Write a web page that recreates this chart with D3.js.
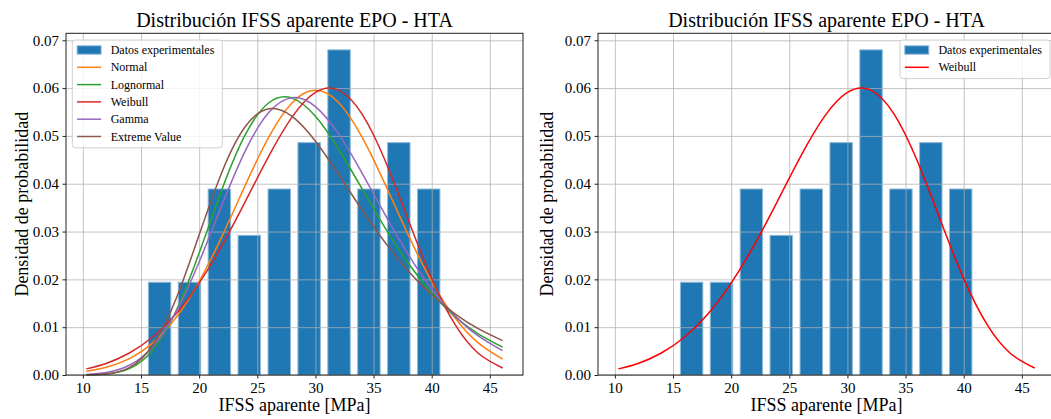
<!DOCTYPE html>
<html>
<head>
<meta charset="utf-8">
<script src="https://cdn.jsdelivr.net/npm/d3@7"></script>
<style>
  body { margin: 0; background: #fff; }
  svg text { font-family: "Liberation Serif", "DejaVu Serif", serif; fill: #000; }
  .grid line { stroke: #b0b0b0; stroke-opacity: 0.75; }
  .grid .domain { display: none; }
  .axis .domain { display: none; }
  .axis line { stroke: #222; }
</style>
</head>
<body>
<div id="chart"></div>
<script>
// histogram (bin centre in MPa, density)
const binCenters = [16.6, 19.17, 21.74, 24.31, 26.89, 29.46, 32.03, 34.6, 37.17, 39.74];
const binDensity = [0.0194, 0.0194, 0.0389, 0.0292, 0.0389, 0.0486, 0.068, 0.0389, 0.0486, 0.0389];
const barWidth = 1.93;

const xTicks = [10, 15, 20, 25, 30, 35, 40, 45];
const yTicks = [0, 0.01, 0.02, 0.03, 0.04, 0.05, 0.06, 0.07];

// fitted curves
const fitX = [10.3, 12, 14, 16, 18, 20, 22, 24, 26, 28, 30, 32, 34, 36, 38, 40, 42, 44, 46.1];
const normalPdf = [0.00079, 0.00161, 0.00344, 0.00671, 0.01198, 0.01955, 0.02919, 0.03987, 0.04982, 0.05695, 0.05954, 0.05695, 0.04982, 0.03987, 0.02919, 0.01955, 0.01198, 0.00671, 0.00332];
const lognormalPdf = [0.00002, 0.00019, 0.00133, 0.00517, 0.01333, 0.02551, 0.03906, 0.05041, 0.05694, 0.05790, 0.05410, 0.04721, 0.03897, 0.03073, 0.02333, 0.01716, 0.01222, 0.00862, 0.00582];
const weibullPdf = [0.00128, 0.00242, 0.00460, 0.00795, 0.01277, 0.01922, 0.02725, 0.03642, 0.04581, 0.05398, 0.05911, 0.05959, 0.05461, 0.04482, 0.03237, 0.02015, 0.01057, 0.00455, 0.00147];
const gammaPdf = [0.00010, 0.00050, 0.00204, 0.00593, 0.01316, 0.02363, 0.03579, 0.04704, 0.05493, 0.05799, 0.05613, 0.05037, 0.04228, 0.03347, 0.02514, 0.01801, 0.01236, 0.00817, 0.00509];
const extremePdf = [0.00002, 0.00021, 0.00155, 0.00617, 0.01583, 0.02931, 0.04268, 0.05206, 0.05568, 0.05407, 0.04887, 0.04191, 0.03456, 0.02769, 0.02172, 0.01677, 0.01280, 0.00969, 0.00718];

const title = "Distribución IFSS aparente EPO - HTA";
const xLabel = "IFSS aparente [MPa]";
const yLabel = "Densidad de probabilidad";
const barLabel = "Datos experimentales";

const allFits = [
    {name: "Normal", color: "#ff7f0e", values: normalPdf},
    {name: "Lognormal", color: "#2ca02c", values: lognormalPdf},
    {name: "Weibull", color: "#d62728", values: weibullPdf},
    {name: "Gamma", color: "#9467bd", values: gammaPdf},
    {name: "Extreme Value", color: "#8c564b", values: extremePdf}
];
const bestFit = [{name: "Weibull", color: "#ff0000", values: weibullPdf}];

const svg = d3.select("#chart").append("svg")
    .attr("width", 1051)
    .attr("height", 419);

function drawPanel(cfg) {
    const width = 457, height = 341.7;

    const g = svg.append("g")
        .attr("transform", `translate(${cfg.left}, 33.3)`);

    const x = d3.scaleLinear().domain([8.55, 47.85]).range([0, width]);
    const y = d3.scaleLinear().domain([0, 0.07146]).range([height, 0]);

    // bars
    g.selectAll(".bar")
        .data(binCenters)
        .enter()
        .append("rect")
        .attr("class", "bar")
        .attr("x", d => x(d - barWidth / 2))
        .attr("width", d => x(d + barWidth / 2) - x(d - barWidth / 2))
        .attr("y", (d, i) => y(binDensity[i]))
        .attr("height", (d, i) => height - y(binDensity[i]))
        .attr("fill", "#1f77b4")
        .attr("stroke", "#8fbbd9")
        .attr("stroke-width", 1);

    // grid (above bars, below lines like matplotlib)
    g.append("g")
        .attr("class", "grid")
        .attr("transform", `translate(0, ${height})`)
        .call(d3.axisBottom(x).tickValues(xTicks).tickSize(-height).tickFormat(""));
    g.append("g")
        .attr("class", "grid")
        .call(d3.axisLeft(y).tickValues(yTicks).tickSize(-width).tickFormat(""));

    // fitted pdfs
    const line = d3.line()
        .x((d, i) => x(fitX[i]))
        .y(d => y(d))
        .curve(d3.curveNatural);

    cfg.fits.forEach(f => {
        g.append("path")
            .datum(f.values)
            .attr("d", line)
            .attr("fill", "none")
            .attr("stroke", f.color)
            .attr("stroke-width", 1.5);
    });

    // axes
    g.append("g")
        .attr("class", "axis")
        .attr("transform", `translate(0, ${height})`)
        .call(d3.axisBottom(x).tickValues(xTicks).tickSize(3.5).tickPadding(3.5).tickFormat(d3.format("d")))
        .selectAll("text")
        .attr("font-size", 15)
        .attr("font-family", "Liberation Serif");

    g.append("g")
        .attr("class", "axis")
        .call(d3.axisLeft(y).tickValues(yTicks).tickSize(3.5).tickPadding(3.5).tickFormat(d3.format(".2f")))
        .selectAll("text")
        .attr("font-size", 15)
        .attr("font-family", "Liberation Serif");

    // frame
    g.append("rect")
        .attr("width", width)
        .attr("height", height)
        .attr("fill", "none")
        .attr("stroke", "#222")
        .attr("stroke-width", 1);

    // title and labels
    g.append("text")
        .text(title)
        .attr("x", width / 2)
        .attr("y", -6)
        .attr("text-anchor", "middle")
        .attr("font-size", 20);

    g.append("text")
        .text(xLabel)
        .attr("x", width / 2)
        .attr("y", height + 36)
        .attr("text-anchor", "middle")
        .attr("font-size", 18);

    g.append("text")
        .text(yLabel)
        .attr("transform", `translate(${cfg.yLabelX}, ${height / 2}) rotate(-90)`)
        .attr("text-anchor", "middle")
        .attr("font-size", 18);

    // legend
    const rows = [{name: barLabel, patch: true}].concat(cfg.fits);
    const legend = g.append("g")
        .attr("transform", `translate(${cfg.legendX}, 6.7)`);

    legend.append("rect")
        .attr("width", 150)
        .attr("height", rows.length * 17.3 + 4)
        .attr("rx", 3)
        .attr("fill", "#fff")
        .attr("fill-opacity", 0.8)
        .attr("stroke", "#d0d0d0")
        .attr("stroke-width", 1);

    rows.forEach((r, i) => {
        const cy = 10 + i * 17.3;
        if (r.patch) {
            legend.append("rect")
                .attr("x", 4.8)
                .attr("y", cy - 4.2)
                .attr("width", 24)
                .attr("height", 8.4)
                .attr("fill", "#1f77b4")
                .attr("stroke", "#8fbbd9")
                .attr("stroke-width", 1);
        } else {
            legend.append("line")
                .attr("x1", 4.8)
                .attr("x2", 28.8)
                .attr("y1", cy)
                .attr("y2", cy)
                .attr("stroke", r.color)
                .attr("stroke-width", 1.5);
        }
        legend.append("text")
            .text(r.name)
            .attr("x", 38.4)
            .attr("y", cy + 4)
            .attr("font-size", 12);
    });
}

drawPanel({left: 66, fits: allFits, legendX: 6.3, yLabelX: -38});
drawPanel({left: 598, fits: bestFit, legendX: 302, yLabelX: -45});
</script>
</body>
</html>
